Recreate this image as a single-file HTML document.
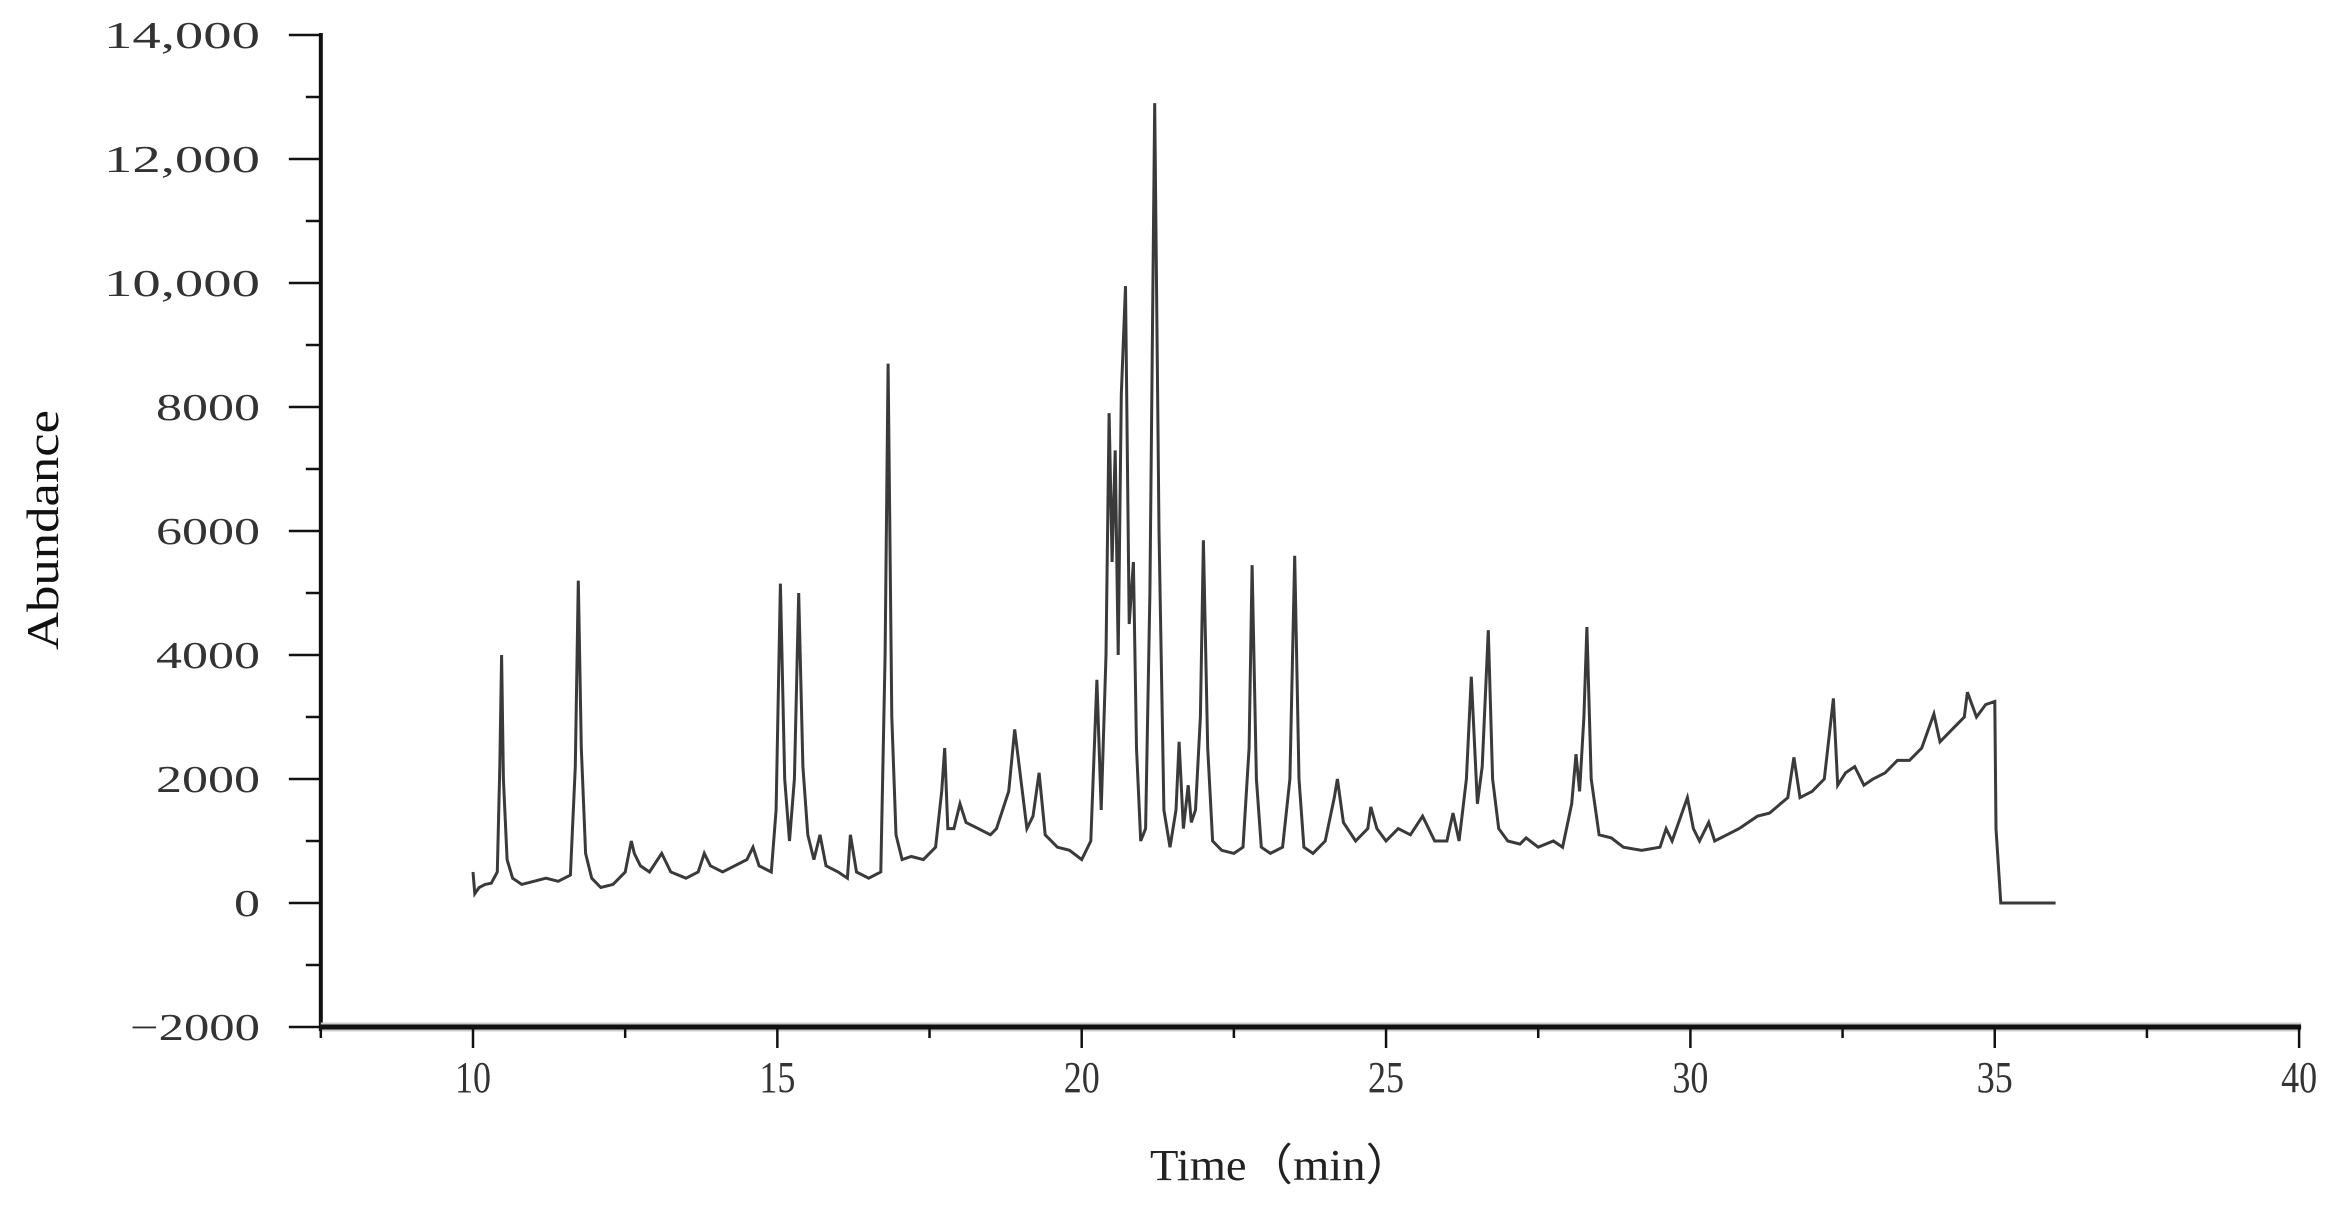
<!DOCTYPE html>
<html><head><meta charset="utf-8"><style>
html,body{margin:0;padding:0;background:#fff;}
svg{display:block;}
text{font-family:"Liberation Serif",serif;fill:#333;}
</style></head><body>
<svg id="chart" width="2338" height="1207" viewBox="0 0 2338 1207" xmlns="http://www.w3.org/2000/svg">
<g id="axes"></g>
<path id="trace" fill="none" stroke="#3a3a3a" stroke-width="3" stroke-linejoin="miter"/>
<text transform="translate(58,530) rotate(-90)" text-anchor="middle" font-size="46" textLength="240" lengthAdjust="spacingAndGlyphs" style="fill:#111">Abundance</text>
<text x="1150" y="1180" font-size="44" textLength="262" lengthAdjust="spacingAndGlyphs" style="fill:#222">Time（min）</text>
</svg>
<script>
const times = [
10.0,10.03,10.1,10.2,10.3,10.4,10.44,10.47,10.5,10.56,
10.65,10.8,11.0,11.2,11.4,11.6,11.68,11.73,11.78,11.85,
11.95,12.1,12.3,12.5,12.6,12.65,12.75,12.9,13.1,13.25,
13.5,13.7,13.8,13.9,14.1,14.3,14.5,14.6,14.7,14.9,
14.98,15.05,15.12,15.2,15.28,15.35,15.42,15.5,15.6,15.7,
15.8,16.0,16.15,16.2,16.3,16.5,16.7,16.77,16.82,16.88,
16.95,17.05,17.2,17.4,17.6,17.7,17.75,17.8,17.9,18.0,
18.1,18.3,18.5,18.6,18.8,18.9,19.0,19.1,19.2,19.3,
19.4,19.6,19.8,20.0,20.15,20.25,20.32,20.4,20.45,20.5,
20.55,20.6,20.65,20.72,20.78,20.85,20.9,20.97,21.05,21.12,
21.2,21.27,21.35,21.45,21.55,21.6,21.67,21.75,21.8,21.87,
21.95,22.0,22.07,22.15,22.3,22.5,22.65,22.75,22.8,22.87,
22.95,23.1,23.3,23.42,23.5,23.57,23.65,23.8,24.0,24.15,
24.2,24.3,24.5,24.7,24.75,24.85,25.0,25.2,25.4,25.6,
25.8,26.0,26.1,26.2,26.32,26.4,26.5,26.58,26.68,26.75,
26.85,27.0,27.2,27.3,27.5,27.75,27.9,28.05,28.12,28.18,
28.25,28.3,28.37,28.5,28.7,28.9,29.2,29.5,29.6,29.7,
29.95,30.05,30.15,30.3,30.4,30.6,30.8,31.1,31.3,31.6,
31.7,31.8,32.0,32.2,32.35,32.42,32.55,32.7,32.85,33.0,
33.2,33.4,33.6,33.8,34.0,34.1,34.3,34.5,34.55,34.7,
34.85,35.0,35.02,35.1,36.0];
const abund = [
500,150,250,300,320,500,2200,4000,2000,700,
400,300,350,400,350,450,2200,5200,2500,800,
400,250,300,500,1000,800,600,500,800,500,
400,500,800,600,500,600,700,900,600,500,
1500,5150,2000,1000,2000,5000,2200,1100,700,1100,
600,500,400,1100,500,400,500,4000,8700,3000,
1100,700,750,700,900,1800,2500,1200,1200,1600,
1300,1200,1100,1200,1800,2800,2000,1200,1400,2100,
1100,900,850,700,1000,3600,1500,4000,7900,5500,
7300,4000,8200,9950,4500,5500,2500,1000,1200,5000,
12900,6000,1500,900,1500,2600,1200,1900,1300,1500,
3000,5850,2500,1000,850,800,900,2500,5450,2000,
900,800,900,2000,5600,2000,900,800,1000,1700,
2000,1300,1000,1200,1550,1200,1000,1200,1100,1400,
1000,1000,1450,1000,2000,3650,1600,2200,4400,2000,
1200,1000,950,1050,900,1000,900,1600,2400,1800,
3000,4450,2000,1100,1050,900,850,900,1200,1000,
1700,1200,1000,1300,1000,1100,1200,1400,1450,1700,
2350,1700,1800,2000,3300,1900,2100,2200,1900,2000,
2100,2300,2300,2500,3050,2600,2800,3000,3400,3000,
3200,3250,1200,0,0];
const xTicks = [10,15,20,25,30,35,40];
const yTicks = [-2000,0,2000,4000,6000,8000,10000,12000,14000];
const yTickLabels = ["\u22122000","0","2000","4000","6000","8000","10,000","12,000","14,000"];

const X0=473, XPX=60.87, Y0=903, YPX=0.062;
function sx(t){return X0+(t-10)*XPX;}
function sy(v){return Y0-v*YPX;}
const NS="http://www.w3.org/2000/svg";
const axes=document.getElementById('axes');
function mk(tag,attrs){const e=document.createElementNS(NS,tag);for(const k in attrs)e.setAttribute(k,attrs[k]);axes.appendChild(e);return e;}

let yl=mk('line',{x1:sx(7.5),y1:sy(14000)-2,x2:sx(7.5),y2:sy(-2000)+4,stroke:'#111','stroke-width':4});


let xh=mk('line',{x1:sx(7.5),y1:sy(-2000),x2:sx(40)+2,y2:sy(-2000),stroke:'#ccc','stroke-width':9});


let xl=mk('line',{x1:sx(7.5),y1:sy(-2000),x2:sx(40)+2,y2:sy(-2000),stroke:'#111','stroke-width':5});



for(let v=-2000; v<=14000; v+=1000){
  const major = v%2000===0;
  const t=mk('line',{x1:sx(7.5)-(major?32:15),y1:sy(v),x2:sx(7.5),y2:sy(v),stroke:'#111','stroke-width':2.5});
  
  
}
yTicks.forEach((v,i)=>{
  const s=yTickLabels[i];
  const w = s.length*26;
  const e=mk('text',{x:260,y:sy(v)+13,'text-anchor':'end','font-size':38,textLength:w,lengthAdjust:'spacingAndGlyphs'});
  e.textContent=s;
  
  
});
for(let t=7.5; t<=40.01; t+=2.5){
  const major = Math.abs(t%5)<0.01;
  const e=mk('line',{x1:sx(t),y1:sy(-2000),x2:sx(t),y2:sy(-2000)+(major?21:11),stroke:'#111','stroke-width':2.5});
  
  
}
xTicks.forEach(t=>{
  const e=mk('text',{x:sx(t),y:1092,'text-anchor':'middle','font-size':44,textLength:36,lengthAdjust:'spacingAndGlyphs'});
  e.textContent=String(t);
  
  
});

let d='';
const n=Math.min(times.length,abund.length);
for(let i=0;i<n;i++){d+=(i?'L':'M')+sx(times[i]).toFixed(1)+' '+sy(abund[i]).toFixed(1);}
document.getElementById('trace').setAttribute('d',d);
</script>
</body></html>
